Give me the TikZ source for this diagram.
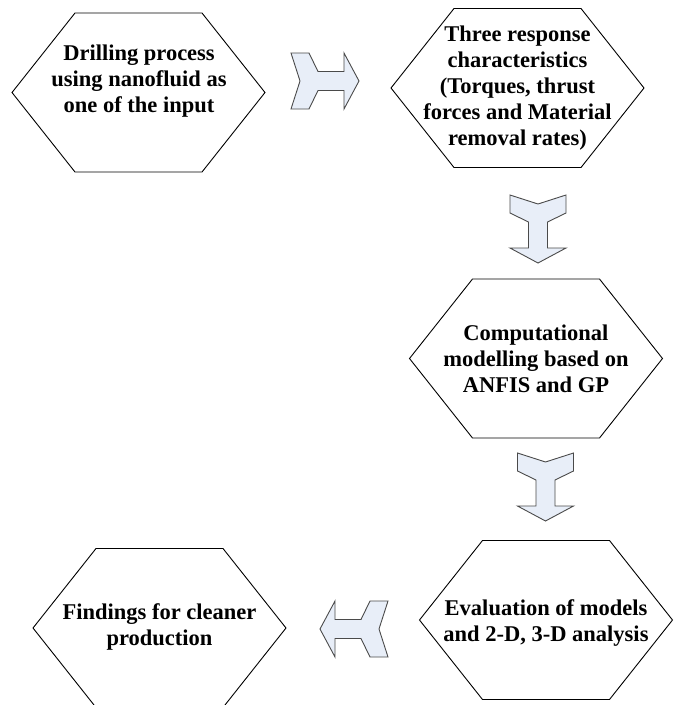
\documentclass[tikz,border=0pt]{standalone}
\usepackage{fontspec}
\setmainfont{Liberation Serif}
\definecolor{arrowfill}{HTML}{E8EEF8}
\definecolor{arrowline}{HTML}{4A4A4A}
\tikzset{
  hexline/.style={draw=black, line width=0.9pt, line join=miter},
  hextext/.style={font=\bfseries\fontsize{22.5}{26}\selectfont, align=center, inner sep=0pt, text=black},
  hexshape/.pic={\draw[hexline] (-126.5,0) -- (-63.5,-79.5) -- (63.5,-79.5) -- (126.5,0) -- (63.5,79.5) -- (-63.5,79.5) -- cycle;},
  blockarrow/.pic={\draw[fill=arrowfill, draw=arrowline, line width=0.9pt, line join=miter]
     (0,-28) -- (18,-28) -- (27,-9.5) -- (53,-9.5) -- (53,-28) -- (68,0) -- (53,28) -- (53,9.5) -- (27,9.5) -- (18,28) -- (0,28) -- (9,0) -- cycle;}
}
\begin{document}
\begin{tikzpicture}[x=1pt,y=-1pt]
\useasboundingbox (0,0) rectangle (673,705);
\clip (0,0) rectangle (673,705);
% hexagons
\pic (hx1) at (138.5,92.5) {hexshape};
\pic (hx2) at (517.5,88) {hexshape};
\pic (hx3) at (536,358.5) {hexshape};
\pic (hx4) at (546,620) {hexshape};
\pic (hx5) at (159.5,628) {hexshape};
% texts
\node[hextext] (drill) at (139,81) {Drilling process\\using nanofluid as\\one of the input};
\node[hextext] (resp) at (517.5,88) {Three response\\characteristics\\(Torques, thrust\\forces and Material\\removal rates)};
\node[hextext] (comp) at (536,358.5) {Computational\\modelling based on\\ANFIS and GP};
\node[hextext] (eval) at (546,623) {Evaluation of models\\and 2-D, 3-D analysis};
\node[hextext] (find) at (159.5,627) {Findings for cleaner\\production};
% block arrows
\pic (a1) at (291,81) {blockarrow};
\pic (a2) [rotate=-90] at (538,195) {blockarrow};
\pic (a3) [rotate=-90] at (545.5,453) {blockarrow};
\pic (a4) [rotate=180] at (388,629) {blockarrow};
\end{tikzpicture}
\end{document}
